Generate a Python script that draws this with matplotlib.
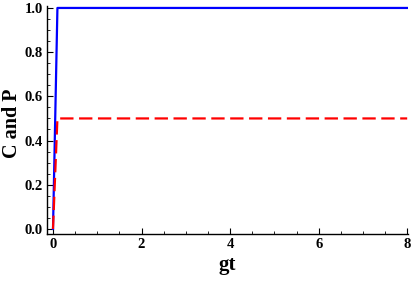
import numpy as np
import matplotlib.pyplot as plt
from matplotlib.ticker import MultipleLocator

gt = [0.0, 0.1, 8.0]
C = [0.0, 1.0, 1.0]
P = [0.0, 0.5, 0.5]

plt.rcParams['font.family'] = ['Liberation Serif', 'DejaVu Serif']
plt.rcParams['font.weight'] = 'bold'

fig = plt.figure(figsize=(4.15, 2.84), dpi=100)
ax = fig.add_axes([0.1133, 0.176, 0.87, 0.803])

ax.plot(gt, C, color='#0000ff', lw=1.6)
ax.plot(gt, P, color='#ff0000', lw=1.6, dashes=(6, 2.5))

ax.set_xlim(-0.135, 8.02)
ax.set_ylim(-0.023, 1.009)
ax.spines['top'].set_visible(False)
ax.spines['right'].set_visible(False)
ax.spines['left'].set_linewidth(1.0)
ax.spines['bottom'].set_linewidth(1.0)

ax.xaxis.set_major_locator(MultipleLocator(2))
ax.xaxis.set_minor_locator(MultipleLocator(0.5))
ax.yaxis.set_major_locator(MultipleLocator(0.2))
ax.yaxis.set_minor_locator(MultipleLocator(0.05))
ax.xaxis.set_major_formatter(plt.FuncFormatter(lambda v, p: '%d' % round(v)))
ax.yaxis.set_major_formatter(plt.FuncFormatter(lambda v, p: '%.1f' % v))
ax.tick_params(which='major', direction='in', length=4, width=0.8, labelsize=10.5, pad=3)
ax.tick_params(which='minor', direction='in', length=2, width=0.6)

ax.set_xlabel('gt', fontsize=15, fontweight='bold', va='center')
ax.set_ylabel('C and P', fontsize=14.5, fontweight='bold', va='center')
ax.xaxis.set_label_coords(0.5, -0.136)
ax.yaxis.set_label_coords(-0.096, 0.487)

fig.savefig('out.png', dpi=100)
